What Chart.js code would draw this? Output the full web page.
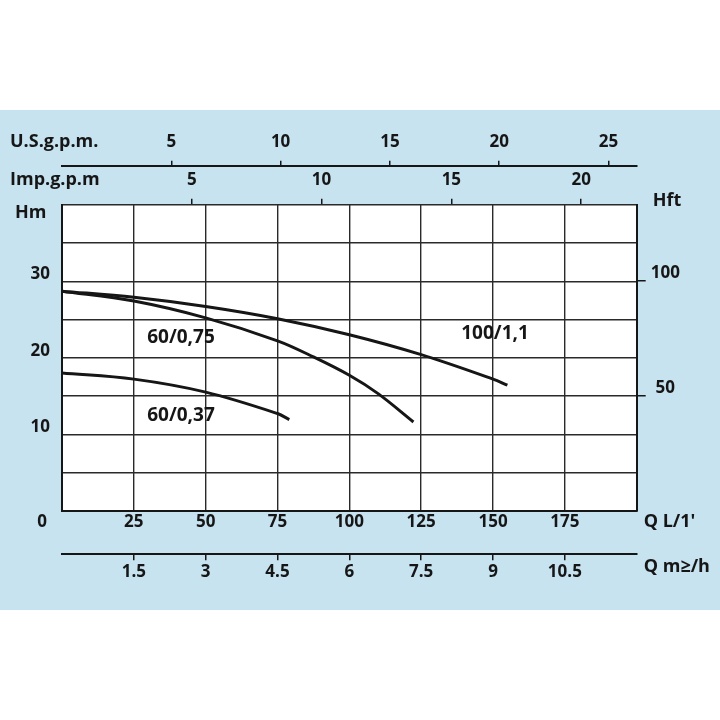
<!DOCTYPE html>
<html>
<head>
<meta charset="utf-8">
<script src="https://cdn.jsdelivr.net/npm/chart.js@4/dist/chart.umd.min.js"></script>
<style>
html,body{margin:0;padding:0;background:#fff;}
canvas{display:block;}
</style>
</head>
<body>
<canvas id="c" width="720" height="720"></canvas>
<script>
// ---- data (flow Q in L/min, head H in m) ----
const flow100 = [0, 25, 50, 75, 100, 125, 150, 155];
const head100 = [28.7, 27.9, 26.7, 25.1, 23.0, 20.4, 17.2, 16.4];
const flow75 = [0, 25, 50, 75, 87.5, 100, 110, 122.3];
const head75 = [28.7, 27.4, 25.2, 22.2, 20.1, 17.7, 15.3, 11.6];
const flow37 = [0, 25, 50, 75, 79.1];
const head37 = [18.0, 17.2, 15.5, 12.7, 11.9];
const seriesNames = ['100/1,1', '60/0,75', '60/0,37'];

const qLminTicks = [25, 50, 75, 100, 125, 150, 175];
const qM3hTicks = [1.5, 3, 4.5, 6, 7.5, 9, 10.5];
const usGpmTicks = [5, 10, 15, 20, 25];
const impGpmTicks = [5, 10, 15, 20];
const hmTicks = [10, 20, 30];
const hftTicks = [50, 100];

const toPts = (xs, ys) => xs.map((x, i) => ({x: x, y: ys[i]}));

const INK = '#161616';
const TICKFONT = {family: '"Open Sans", "DejaVu Sans", sans-serif', size: 17, weight: 'bold'};

const bgPlugin = {
  id: 'bg',
  beforeDraw(chart) {
    const ctx = chart.ctx, a = chart.chartArea;
    ctx.save();
    ctx.fillStyle = '#ffffff';
    ctx.fillRect(0, 0, chart.width, chart.height);
    ctx.fillStyle = '#c7e3f0';
    ctx.fillRect(0, 110, chart.width, 500);
    ctx.fillStyle = '#ffffff';
    ctx.fillRect(a.left, a.top, a.right - a.left, a.bottom - a.top);
    ctx.restore();
  },
  afterDraw(chart) {
    const ctx = chart.ctx, a = chart.chartArea;
    const sx = chart.scales.x, sy = chart.scales.y;
    ctx.save();
    ctx.fillStyle = INK;
    // curve labels
    ctx.font = 'bold 19px "Open Sans", "DejaVu Sans", sans-serif';
    ctx.textAlign = 'center';
    ctx.textBaseline = 'middle';
    ctx.fillText(seriesNames[1], sx.getPixelForValue(41.4), sy.getPixelForValue(22.6));
    ctx.fillText(seriesNames[2], sx.getPixelForValue(41.4), sy.getPixelForValue(12.4));
    ctx.fillText(seriesNames[0], sx.getPixelForValue(150.7), sy.getPixelForValue(23.1));
    // axis titles
    ctx.font = 'bold 18px "Open Sans", "DejaVu Sans", sans-serif';
    ctx.textAlign = 'left';
    ctx.fillText('U.S.g.p.m.', 10, 142);
    ctx.fillText('Imp.g.p.m', 10, 180);
    ctx.fillText('Hm', 15, 213);
    ctx.fillText('Hft', a.right + 16, 201);
    ctx.fillText("Q L/1'", a.right + 7, 522);
    ctx.fillText('Q m\u2265/h', a.right + 7, 567);
    ctx.font = 'bold 17px "Open Sans", "DejaVu Sans", sans-serif';
    ctx.textAlign = 'center';
    ctx.fillText('0', 42, 522);
    ctx.restore();
  }
};

const fixedTicks = (arr) => function(scale) { scale.ticks = arr.map(v => ({value: v})); };

new Chart(document.getElementById('c'), {
  type: 'line',
  data: {
    datasets: [
      {label: seriesNames[0], data: toPts(flow100, head100)},
      {label: seriesNames[1], data: toPts(flow75, head75)},
      {label: seriesNames[2], data: toPts(flow37, head37)}
    ].map(d => Object.assign(d, {
      xAxisID: 'x', yAxisID: 'y', borderColor: INK, borderWidth: 3,
      pointRadius: 0, fill: false, tension: 0.35, borderCapStyle: 'butt'
    }))
  },
  options: {
    responsive: false,
    animation: false,
    devicePixelRatio: 1,
    layout: {padding: {top: 120, bottom: 125.7, left: 0, right: 0}},
    plugins: {legend: {display: false}, tooltip: {enabled: false}},
    scales: {
      x: {
        type: 'linear', position: 'bottom', weight: 0, min: 0, max: 200,
        ticks: {stepSize: 25, color: INK, font: TICKFONT, padding: 1, maxRotation: 0, autoSkip: false,
          callback: v => qLminTicks.includes(v) ? String(v) : ''},
        grid: {color: '#2a2a2a', lineWidth: 1.4, drawTicks: false},
        border: {color: INK, width: 2},
        afterFit: s => { s.height = 43.6; }
      },
      x2: {
        type: 'linear', position: 'bottom', weight: 1, min: 0, max: 12,
        afterBuildTicks: fixedTicks(qM3hTicks),
        ticks: {color: INK, font: TICKFONT, padding: 2, maxRotation: 0, autoSkip: false,
          callback: v => String(v)},
        grid: {drawOnChartArea: false, drawTicks: true, tickLength: 6, color: INK, lineWidth: 1.5},
        border: {display: true, color: INK, width: 2},
        afterFit: s => { s.height = 40; }
      },
      xImp: {
        type: 'linear', position: 'top', weight: 0, min: 0, max: 22.14,
        afterBuildTicks: fixedTicks(impGpmTicks),
        ticks: {color: INK, font: TICKFONT, padding: 8.5, maxRotation: 0, autoSkip: false,
          callback: v => String(v)},
        grid: {drawOnChartArea: false, drawTicks: true, tickLength: 6, color: INK, lineWidth: 1.5},
        border: {display: false},
        afterFit: s => { s.height = 39; }
      },
      xUS: {
        type: 'linear', position: 'top', weight: 1, min: 0, max: 26.29,
        afterBuildTicks: fixedTicks(usGpmTicks),
        ticks: {color: INK, font: TICKFONT, padding: 8, maxRotation: 0, autoSkip: false,
          callback: v => String(v)},
        grid: {drawOnChartArea: false, drawTicks: true, tickLength: 5, color: INK, lineWidth: 1.5},
        border: {display: true, color: INK, width: 2},
        afterFit: s => { s.height = 45.7; }
      },
      y: {
        type: 'linear', position: 'left', min: 0, max: 40,
        ticks: {stepSize: 5, color: INK, font: TICKFONT, padding: 12, labelOffset: -7, autoSkip: false,
          callback: v => hmTicks.includes(v) ? String(v) : ''},
        grid: {color: '#2a2a2a', lineWidth: 1.4, drawTicks: false},
        border: {color: INK, width: 2},
        afterFit: s => { s.width = 62; }
      },
      y2: {
        type: 'linear', position: 'right', min: 0, max: 133.33,
        afterBuildTicks: fixedTicks(hftTicks),
        ticks: {color: INK, font: TICKFONT, padding: 5, labelOffset: -8, crossAlign: 'center', autoSkip: false,
          callback: v => String(v)},
        grid: {drawOnChartArea: false, drawTicks: true, tickLength: 9, color: INK, lineWidth: 1.5},
        border: {display: true, color: INK, width: 2},
        afterFit: s => { s.width = 83.3; }
      }
    }
  },
  plugins: [bgPlugin]
});
</script>
</body>
</html>
